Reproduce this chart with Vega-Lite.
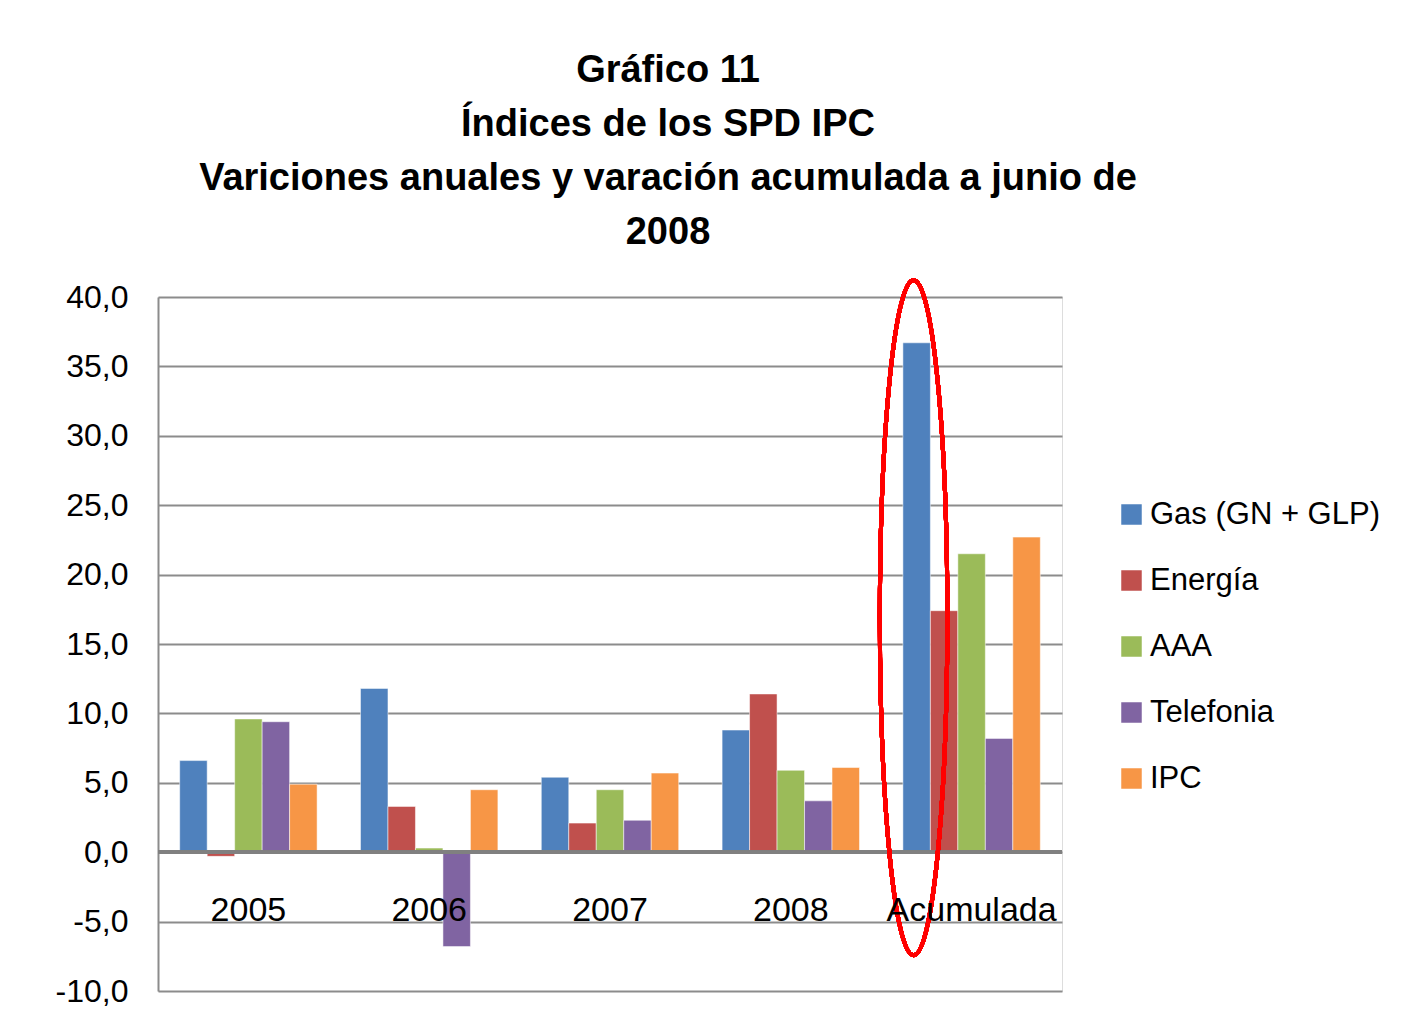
{
  "$schema": "https://vega.github.io/schema/vega-lite/v6.json",
  "autosize": "none",
  "width": 904,
  "height": 694,
  "padding": {"left": 158, "top": 297, "right": 348, "bottom": 40},
  "background": "white",
  "title": {
    "text": ["Gráfico 11", "Índices de los SPD IPC", "Variciones anuales y varación acumulada a junio de", "2008"],
    "anchor": "middle",
    "frame": "group",
    "dx": 58,
    "offset": 20,
    "font": "Liberation Sans",
    "fontSize": 38,
    "fontWeight": "bold",
    "lineHeight": 54,
    "color": "black"
  },
  "data": {
    "values": [
      {"Periodo": "2005", "Serie": "Gas  (GN + GLP)", "Valor": 6.6},
      {"Periodo": "2005", "Serie": "Energía", "Valor": -0.3},
      {"Periodo": "2005", "Serie": "AAA", "Valor": 9.6},
      {"Periodo": "2005", "Serie": "Telefonia", "Valor": 9.4},
      {"Periodo": "2005", "Serie": "IPC", "Valor": 4.9},
      {"Periodo": "2006", "Serie": "Gas  (GN + GLP)", "Valor": 11.8},
      {"Periodo": "2006", "Serie": "Energía", "Valor": 3.3},
      {"Periodo": "2006", "Serie": "AAA", "Valor": 0.3},
      {"Periodo": "2006", "Serie": "Telefonia", "Valor": -6.8},
      {"Periodo": "2006", "Serie": "IPC", "Valor": 4.5},
      {"Periodo": "2007", "Serie": "Gas  (GN + GLP)", "Valor": 5.4},
      {"Periodo": "2007", "Serie": "Energía", "Valor": 2.1},
      {"Periodo": "2007", "Serie": "AAA", "Valor": 4.5},
      {"Periodo": "2007", "Serie": "Telefonia", "Valor": 2.3},
      {"Periodo": "2007", "Serie": "IPC", "Valor": 5.7},
      {"Periodo": "2008", "Serie": "Gas  (GN + GLP)", "Valor": 8.8},
      {"Periodo": "2008", "Serie": "Energía", "Valor": 11.4},
      {"Periodo": "2008", "Serie": "AAA", "Valor": 5.9},
      {"Periodo": "2008", "Serie": "Telefonia", "Valor": 3.7},
      {"Periodo": "2008", "Serie": "IPC", "Valor": 6.1},
      {"Periodo": "Acumulada", "Serie": "Gas  (GN + GLP)", "Valor": 36.7},
      {"Periodo": "Acumulada", "Serie": "Energía", "Valor": 17.4},
      {"Periodo": "Acumulada", "Serie": "AAA", "Valor": 21.5},
      {"Periodo": "Acumulada", "Serie": "Telefonia", "Valor": 8.2},
      {"Periodo": "Acumulada", "Serie": "IPC", "Valor": 22.7}
    ]
  },
  "layer": [
    {
      "mark": {"type": "bar", "stroke": "#ffffff", "strokeOpacity": 0.5, "strokeWidth": 1},
      "encoding": {
        "x": {
          "field": "Periodo", "type": "nominal", "title": null,
          "scale": {"paddingInner": 0.24, "paddingOuter": 0.12},
          "axis": {"domain": false, "ticks": false, "labelAngle": 0, "labelPadding": -98, "zindex": 2,
                   "labelFont": "Liberation Sans", "labelFontSize": 34, "labelColor": "black"}
        },
        "xOffset": {"field": "Serie", "type": "nominal",
                    "sort": ["Gas  (GN + GLP)", "Energía", "AAA", "Telefonia", "IPC"]},
        "y": {
          "field": "Valor", "type": "quantitative", "title": null,
          "scale": {"domain": [-10, 40], "nice": false},
          "axis": {
            "values": [-10, -5, 0, 5, 10, 15, 20, 25, 30, 35, 40],
            "labelExpr": "(datum.value < 0 ? '-' : '') + replace(format(abs(datum.value), '.1f'), '.', ',')",
            "grid": true, "gridColor": "#8c8c8c", "gridWidth": 2,
            "domain": true, "domainColor": "#8c8c8c", "domainWidth": 2,
            "ticks": false, "labelPadding": 30,
            "labelFont": "Liberation Sans", "labelFontSize": 32, "labelColor": "black"
          }
        },
        "color": {
          "field": "Serie", "type": "nominal",
          "sort": ["Gas  (GN + GLP)", "Energía", "AAA", "Telefonia", "IPC"],
          "scale": {"range": ["#4F81BD", "#C0504D", "#9BBB59", "#8064A2", "#F79646"]},
          "legend": {
            "title": null, "orient": "none", "legendX": 958, "legendY": 202,
            "symbolType": "square", "symbolSize": 420, "symbolStrokeWidth": 0,
            "labelFont": "Liberation Sans", "labelFontSize": 31, "labelColor": "black",
            "rowPadding": 34, "labelOffset": 3, "labelLimit": 400
          }
        }
      }
    },
    {
      "mark": {"type": "rule", "color": "#808080", "strokeWidth": 3},
      "encoding": {"y": {"datum": 0, "type": "quantitative"}}
    },
    {
      "mark": {
        "type": "point",
        "shape": "M0,-1A0.1,1,0,1,1,0,1A0.1,1,0,1,1,0,-1Z",
        "size": 455625,
        "filled": false,
        "stroke": "#ff0000",
        "strokeWidth": 4,
        "opacity": 1,
        "xOffset": -58
      },
      "encoding": {
        "x": {"datum": "Acumulada", "type": "nominal"},
        "y": {"datum": 16.9, "type": "quantitative"}
      }
    }
  ]
}
